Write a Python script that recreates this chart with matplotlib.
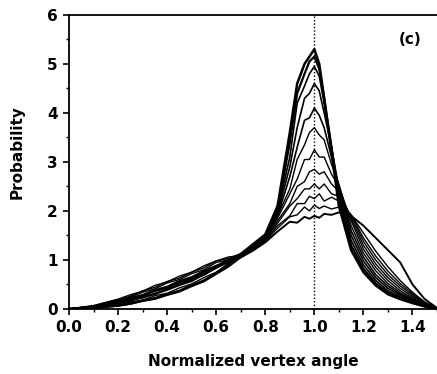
import matplotlib
matplotlib.use('Agg')
import matplotlib.pyplot as plt
from matplotlib.ticker import MultipleLocator

x = [0.0, 0.1, 0.2, 0.25, 0.3, 0.35, 0.4, 0.45, 0.5, 0.55, 0.6, 0.65, 0.7, 0.75, 0.8,
     0.85, 0.9, 0.93, 0.96, 0.98, 1.0, 1.02, 1.04, 1.07, 1.1,
     1.15, 1.2, 1.25, 1.3, 1.35, 1.4, 1.45, 1.5]

# probability curves, from most peaked to flattest
c1 = [0, 0.02, 0.07, 0.11, 0.17, 0.22, 0.30, 0.37, 0.48, 0.58, 0.73, 0.90, 1.12, 1.32, 1.52,
      2.10, 3.60, 4.60, 5.00, 5.15, 5.30, 5.00, 4.30, 3.20, 2.10,
      1.20, 0.75, 0.48, 0.30, 0.20, 0.12, 0.05, 0.0]
c2 = [0, 0.04, 0.12, 0.18, 0.23, 0.31, 0.39, 0.49, 0.57, 0.71, 0.84, 0.99, 1.10, 1.28, 1.50,
      2.00, 3.40, 4.40, 4.80, 5.05, 5.15, 4.90, 4.30, 3.30, 2.25,
      1.30, 0.82, 0.52, 0.33, 0.22, 0.13, 0.06, 0.0]
c3 = [0, 0.02, 0.06, 0.10, 0.16, 0.20, 0.28, 0.35, 0.46, 0.56, 0.71, 0.86, 1.05, 1.25, 1.48,
      2.00, 3.10, 4.20, 4.55, 4.80, 4.95, 4.75, 4.20, 3.30, 2.35,
      1.40, 0.90, 0.58, 0.37, 0.24, 0.14, 0.06, 0.0]
c4 = [0, 0.05, 0.14, 0.21, 0.26, 0.36, 0.43, 0.53, 0.61, 0.75, 0.87, 1.01, 1.11, 1.27, 1.47,
      1.95, 2.90, 3.70, 4.30, 4.40, 4.60, 4.45, 4.00, 3.30, 2.45,
      1.50, 0.98, 0.64, 0.42, 0.27, 0.16, 0.07, 0.0]
c5 = [0, 0.03, 0.11, 0.16, 0.25, 0.30, 0.41, 0.49, 0.61, 0.69, 0.84, 0.95, 1.09, 1.23, 1.46,
      1.90, 2.70, 3.30, 3.85, 3.90, 4.10, 3.95, 3.70, 3.10, 2.50,
      1.60, 1.06, 0.70, 0.47, 0.30, 0.18, 0.08, 0.0]
c6 = [0, 0.04, 0.15, 0.23, 0.29, 0.39, 0.46, 0.57, 0.65, 0.78, 0.89, 0.99, 1.09, 1.27, 1.45,
      1.90, 2.45, 3.05, 3.35, 3.60, 3.70, 3.55, 3.45, 2.95, 2.55,
      1.70, 1.14, 0.78, 0.52, 0.33, 0.20, 0.09, 0.01]
c7 = [0, 0.06, 0.19, 0.26, 0.37, 0.44, 0.56, 0.63, 0.75, 0.84, 0.98, 1.03, 1.13, 1.24, 1.44,
      1.85, 2.35, 2.65, 3.05, 3.05, 3.25, 3.10, 3.10, 2.75, 2.50,
      1.80, 1.22, 0.85, 0.58, 0.37, 0.22, 0.10, 0.01]
c8 = [0, 0.03, 0.08, 0.14, 0.18, 0.27, 0.32, 0.43, 0.51, 0.64, 0.75, 0.93, 1.05, 1.23, 1.42,
      1.80, 2.15, 2.50, 2.60, 2.80, 2.85, 2.75, 2.80, 2.55, 2.40,
      1.85, 1.30, 0.92, 0.64, 0.42, 0.25, 0.11, 0.01]
c9 = [0, 0.05, 0.17, 0.24, 0.34, 0.41, 0.53, 0.60, 0.72, 0.80, 0.95, 1.00, 1.11, 1.21, 1.41,
      1.75, 2.10, 2.25, 2.45, 2.45, 2.55, 2.45, 2.55, 2.35, 2.30,
      1.90, 1.38, 1.00, 0.70, 0.47, 0.28, 0.12, 0.01]
c10 = [0, 0.04, 0.13, 0.20, 0.27, 0.37, 0.44, 0.55, 0.63, 0.76, 0.86, 0.98, 1.07, 1.21, 1.40,
       1.70, 1.90, 2.15, 2.15, 2.30, 2.25, 2.35, 2.20, 2.28, 2.20,
       1.92, 1.45, 1.08, 0.77, 0.52, 0.31, 0.13, 0.01]
c11 = [0, 0.07, 0.20, 0.29, 0.36, 0.48, 0.55, 0.67, 0.75, 0.88, 0.98, 1.06, 1.09, 1.21, 1.38,
       1.65, 1.88, 1.92, 2.08, 2.00, 2.12, 2.05, 2.10, 2.04, 2.08,
       1.92, 1.55, 1.18, 0.86, 0.58, 0.34, 0.14, 0.01]
c12 = [0, 0.05, 0.15, 0.22, 0.28, 0.38, 0.45, 0.57, 0.65, 0.77, 0.87, 0.99, 1.05, 1.19, 1.36,
       1.58, 1.78, 1.76, 1.88, 1.84, 1.90, 1.86, 1.94, 1.92, 1.97,
       1.90, 1.70, 1.45, 1.20, 0.95, 0.50, 0.20, 0.02]

curves = [c1, c2, c3, c4, c5, c6, c7, c8, c9, c10, c11, c12]
widths = [1.8, 1.6, 1.2, 1.2, 1.2, 1.0, 1.0, 1.0, 1.0, 1.0, 1.0, 1.4]

plt.rcParams['font.family'] = ['DejaVu Sans']
plt.rcParams['font.weight'] = 'bold'

fig = plt.figure(figsize=(4.37, 3.74), dpi=100)
ax = fig.add_axes([0.158, 0.174, 0.842, 0.786])

for c, w in zip(curves, widths):
    ax.plot(x, c, color='black', lw=w)

ax.axvline(1.0, color='black', lw=1.0, ls=(0, (1, 1.5)))

ax.set_xlim(0, 1.5)
ax.set_ylim(0, 6)
ax.xaxis.set_major_locator(MultipleLocator(0.2))
ax.xaxis.set_minor_locator(MultipleLocator(0.1))
ax.yaxis.set_major_locator(MultipleLocator(1))
ax.yaxis.set_minor_locator(MultipleLocator(0.5))
ax.xaxis.set_major_formatter(plt.FormatStrFormatter('%.1f'))
ax.tick_params(which='major', direction='out', length=4, width=1.2, labelsize=11, pad=4)
ax.tick_params(which='minor', direction='out', length=2, width=1.0)
ax.tick_params(top=False, right=False)
ax.spines['right'].set_visible(False)
for s in ['left', 'bottom', 'top']:
    ax.spines[s].set_linewidth(1.3)

ax.set_xlabel('Normalized vertex angle', fontsize=11, fontweight='bold')
ax.set_ylabel('Probability', fontsize=11, fontweight='bold')
ax.xaxis.set_label_coords(0.5, -0.155)
ax.yaxis.set_label_coords(-0.12, 0.535)
ax.text(1.39, 5.49, '(c)', fontsize=11, fontweight='bold', ha='center', va='center')

fig.savefig('out.png', dpi=100)
